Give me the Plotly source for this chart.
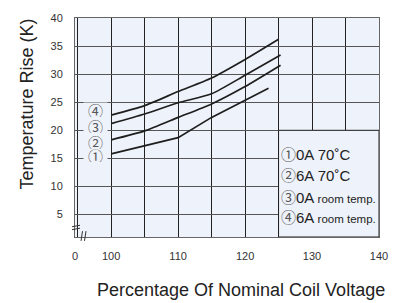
import plotly.graph_objects as go

# ---- data ----
x_tick_vals = [94.6, 100, 110, 120, 130, 140]
x_tick_text = ["0", "100", "110", "120", "130", "140"]
y_tick_vals = [5, 10, 15, 20, 25, 30, 35, 40]
y_tick_text = ["5", "10", "15", "20", "25", "30", "35", "40"]

c1_x = [100, 110, 115, 120, 123.5]
c1_y = [15.8, 18.7, 22.3, 25.3, 27.5]
c2_x = [100, 105, 110, 115, 120, 125.3]
c2_y = [18.3, 19.9, 22.3, 24.7, 27.8, 31.6]
c3_x = [100, 105, 110, 115, 120, 125.3]
c3_y = [21.2, 22.9, 24.9, 26.5, 29.8, 33.4]
c4_x = [100, 105, 110, 115, 120, 125]
c4_y = [22.7, 24.4, 26.9, 29.3, 32.6, 36.2]

marker_labels = ["①", "②", "③", "④"]
marker_x = [97.7, 97.7, 97.7, 97.7]
marker_y = [15.55, 18.0, 20.7, 23.7]

legend_main = ["0A 70˚C", "6A 70˚C", "0A", "6A"]
legend_small = ["", "", " room temp.", " room temp."]

BG = "#EEF2FA"
LINE = "#1e1e1e"
VGRID = "#222222"
HGRID = "#555555"
CJK = "Noto Sans CJK JP"

W, H = 401, 303
ML, MR, MT, MB = 75, 22, 13, 66
PW, PH = W - ML - MR, H - MT - MB


def px(xp):
    return (xp - ML) / PW


def py(yp):
    return (H - MB - yp) / PH


fig = go.Figure()
for cx, cy, shp in [(c1_x, c1_y, "linear"), (c2_x, c2_y, "spline"),
                    (c3_x, c3_y, "spline"), (c4_x, c4_y, "spline")]:
    fig.add_trace(go.Scatter(x=cx, y=cy, mode="lines",
                             line=dict(color=LINE, width=1.7, shape=shp, smoothing=0.6),
                             showlegend=False, hoverinfo="skip"))

# legend box covering the grid in lower right
fig.add_shape(type="rect", xref="x", yref="y", x0=125, x1=140, y0=1, y1=20,
              fillcolor=BG, line=dict(color=LINE, width=1), layer="above")

annotations = []
for lab, xv, yv in zip(marker_labels, marker_x, marker_y):
    annotations.append(dict(x=xv, y=yv, xref="x", yref="y", text=lab, showarrow=False,
                            xanchor="center", yanchor="middle",
                            font=dict(family=CJK, size=15, color="#555555"),
                            bgcolor=BG, width=23, height=14, borderpad=0))

leg_y = [py(151.5), py(173), py(196), py(216.5)]
for i in range(4):
    txt = (f"<span style='font-family:{CJK};color:#555555'>{marker_labels[i]}</span>{legend_main[i]}"
           + (f"<span style='font-size:11.5px'>{legend_small[i]}</span>" if legend_small[i] else ""))
    annotations.append(dict(x=px(279), y=leg_y[i], xref="paper", yref="paper",
                            xanchor="left", yanchor="middle", text=txt, showarrow=False,
                            font=dict(family="Liberation Sans, Arial", size=15, color="#222222")))

annotations.append(dict(x=px(241), y=py(291), xref="paper", yref="paper",
                        xanchor="center", yanchor="middle",
                        text="Percentage Of Nominal Coil Voltage", showarrow=False,
                        font=dict(family="Liberation Sans, Arial", size=18, color="#222222")))
annotations.append(dict(x=px(27), y=py(101.5), xref="paper", yref="paper", textangle=-90,
                        xanchor="center", yanchor="middle",
                        text="Temperature Rise (K)", showarrow=False,
                        font=dict(family="Liberation Sans, Arial", size=18, color="#222222")))

# axis-break marks
brk = [((72, 226.5), (80, 225)), ((72, 229.5), (80, 228)),
       ((82.5, 231), (81, 241)), ((86, 231), (84.5, 241))]
for (a, b) in brk:
    fig.add_shape(type="line", xref="paper", yref="paper",
                  x0=px(a[0]), y0=py(a[1]), x1=px(b[0]), y1=py(b[1]),
                  line=dict(color="#333333", width=1), layer="above")

fig.update_layout(
    width=W, height=H, margin=dict(l=ML, r=MR, t=MT, b=MB),
    paper_bgcolor="white", plot_bgcolor=BG, showlegend=False,
    annotations=annotations,
    font=dict(family="Liberation Sans, Arial", size=11, color="#333333"),
)
fig.update_xaxes(range=[94.6, 140], tickvals=x_tick_vals, ticktext=x_tick_text,
                 showgrid=False, ticks="", ticklabelstandoff=9,
                 minor=dict(tick0=95, dtick=5, showgrid=True, gridcolor=VGRID, gridwidth=1),
                 showline=True, linecolor="#666666", linewidth=1, mirror=True,
                 zeroline=False, tickfont=dict(size=11, color="#333333"))
fig.update_yaxes(range=[1, 40], tickvals=y_tick_vals, ticktext=y_tick_text,
                 showgrid=True, gridcolor=HGRID, gridwidth=1, ticks="", ticklabelstandoff=9,
                 showline=True, linecolor="#666666", linewidth=1, mirror=True,
                 zeroline=False, tickfont=dict(size=11, color="#333333"))

fig.write_html("out.html", config={"displayModeBar": False},
               post_script="document.body.style.margin='0';document.body.style.overflow='hidden';")
